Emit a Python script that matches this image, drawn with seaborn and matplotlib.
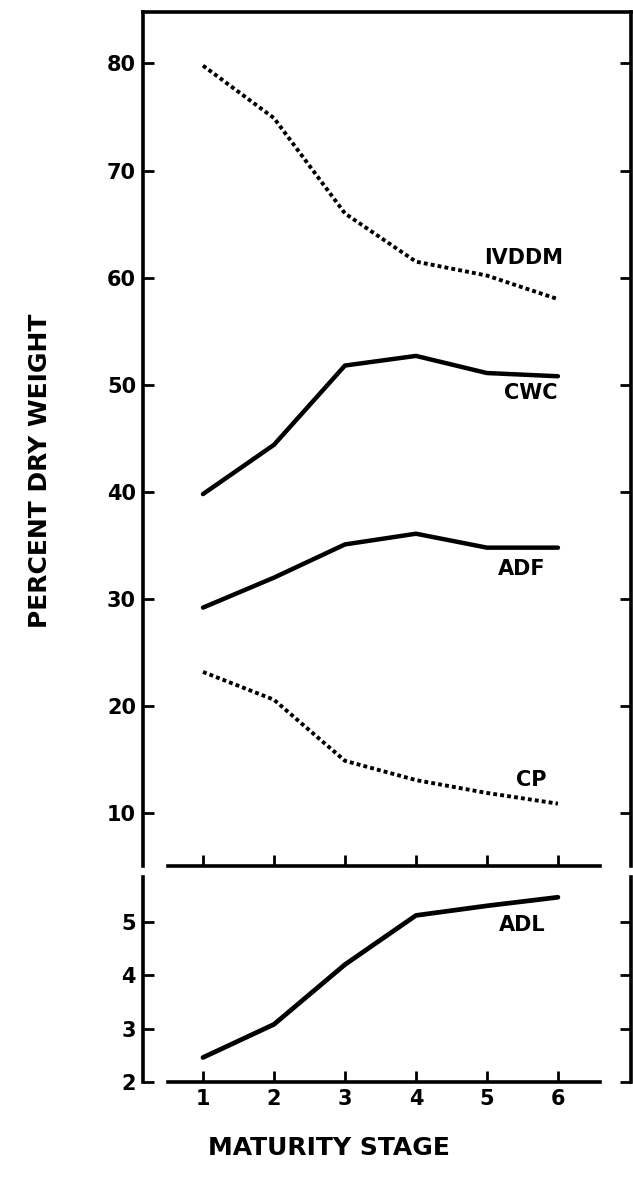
import matplotlib
matplotlib.use("Agg")
import matplotlib.pyplot as plt
import seaborn as sns
import pandas as pd

# ---- data ----
stage = [1, 2, 3, 4, 5, 6]
ivddm = [79.8, 74.9, 66.0, 61.5, 60.2, 58.0]
cwc = [39.8, 44.4, 51.8, 52.7, 51.1, 50.8]
adf = [29.2, 32.0, 35.1, 36.1, 34.8, 34.8]
cp = [23.2, 20.6, 14.9, 13.1, 11.9, 10.9]
adl = [2.46, 3.08, 4.2, 5.12, 5.3, 5.46]

top_yticks = [10, 20, 30, 40, 50, 60, 70, 80]
bot_yticks = [2, 3, 4, 5]
xticks = [1, 2, 3, 4, 5, 6]

series_labels = ["IVDDM", "CWC", "ADF", "CP"]
label_x = [5.51, 5.62, 5.49, 5.62]
label_y = [61.8, 49.2, 32.8, 13.1]

sns.set_theme(style="white")
plt.rcParams["font.family"] = ["DejaVu Sans"]
plt.rcParams["font.weight"] = "bold"
plt.rcParams["text.color"] = "black"
plt.rcParams["axes.labelcolor"] = "black"
plt.rcParams["xtick.color"] = "black"
plt.rcParams["ytick.color"] = "black"

fig = plt.figure(figsize=(6.33, 11.93), dpi=100)
ax1 = fig.add_axes([0.2259, 0.2741, 0.771, 0.7158])
ax2 = fig.add_axes([0.2259, 0.0930, 0.771, 0.1719])

dotted = (0, (1, 0.8))
sns.lineplot(x=stage, y=ivddm, ax=ax1, color="black", lw=2.8, linestyle=dotted,
             dash_capstyle="butt")
sns.lineplot(x=stage, y=cwc, ax=ax1, color="black", lw=3.2)
sns.lineplot(x=stage, y=adf, ax=ax1, color="black", lw=3.2)
sns.lineplot(x=stage, y=cp, ax=ax1, color="black", lw=2.8, linestyle=dotted,
             dash_capstyle="butt")
sns.lineplot(x=stage, y=adl, ax=ax2, color="black", lw=3.4)

for t, lx, ly in zip(series_labels, label_x, label_y):
    ax1.text(lx, ly, t, ha="center", va="center", fontsize=15, fontweight="bold",
             color="black")
ax2.text(5.5, 4.95, "ADL", ha="center", va="center", fontsize=15, fontweight="bold",
         color="black")

xlim = (0.155, 7.03)
for ax in (ax1, ax2):
    ax.set_xlim(*xlim)
    ax.set_xticks(xticks)
    for s in ax.spines.values():
        s.set_visible(True)
        s.set_color("black")
        s.set_linewidth(2.6)
    ax.spines["bottom"].set_bounds(0.51, 6.59)
    ax.tick_params(axis="both", which="both", direction="in", length=8, width=2,
                   color="black", labelcolor="black", labelsize=15, pad=5)
    ax.tick_params(axis="y", left=True, right=True)
    ax.tick_params(axis="x", bottom=True, top=False)
    ax.set_xlabel("")
    ax.set_ylabel("")
    ax.grid(False)

ax1.set_ylim(5.08, 84.8)
ax1.set_yticks(top_yticks)
ax1.tick_params(axis="x", labelbottom=False)
ax2.spines["top"].set_visible(False)
ax2.set_ylim(2, 5.84)
ax2.set_yticks(bot_yticks)
ax2.set_xticklabels([str(v) for v in xticks])

for ax in (ax1, ax2):
    for lab in ax.get_xticklabels() + ax.get_yticklabels():
        lab.set_fontweight("bold")
        lab.set_color("black")

fig.text(0.063, 0.605, "PERCENT DRY WEIGHT", rotation=90, ha="center", va="center",
         fontsize=18, fontweight="bold", color="black")
fig.text(0.52, 0.038, "MATURITY STAGE", ha="center", va="center",
         fontsize=18, fontweight="bold", color="black")

fig.savefig("out.png", dpi=100)
